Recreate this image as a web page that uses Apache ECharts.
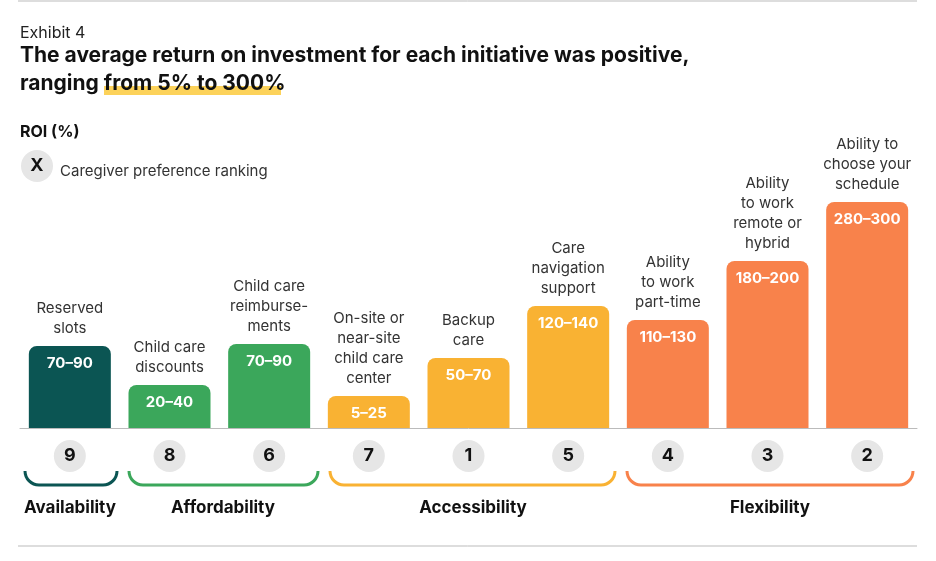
<!DOCTYPE html>
<html><head><meta charset="utf-8">
<script src="https://cdn.jsdelivr.net/npm/echarts@6/dist/echarts.min.js"></script>
<style>html,body{margin:0;padding:0;background:#fff}#c{width:936px;height:561px}</style>
</head><body><div id="c"></div>
<script>
const categories = ['Reserved\nslots','Child care\ndiscounts','Child care\nreimburse-\nments','On-site or\nnear-site\nchild care\ncenter','Backup\ncare','Care\nnavigation\nsupport','Ability\nto work\npart-time','Ability\nto work\nremote or\nhybrid','Ability to\nchoose your\nschedule'];
const roiRanges = ['70–90','20–40','70–90','5–25','50–70','120–140','110–130','180–200','280–300'];
// bar heights as drawn in the reference (visual scale)
const barHeights = [82,43,84,32,70,122,108,167,226];
const rankings = ['9','8','6','7','1','5','4','3','2'];
const groupOf = [0,1,1,2,2,2,3,3,3];
const groupNames = ['Availability','Affordability','Accessibility','Flexibility'];
const groupColors = ['#0b5553','#3ba75b','#f9b233','#f8824b'];

const F = 'Inter, "Noto Sans", sans-serif';
const chart = echarts.init(document.getElementById('c'));
const brackets = [[25,117],[129,318],[330,615],[627,913]];
const groupCenters = [70,223,473,770];
function txt(x,y,text,font,fill,align){return {type:'text',x:x,y:y,style:{text:text,font:font,fill:fill,align:align||'left',verticalAlign:'top',lineHeight:28}};}
const g = [
  {type:'line',shape:{x1:18,y1:1,x2:917,y2:1},style:{stroke:'#bbb',lineWidth:1}},
  {type:'line',shape:{x1:18,y1:546,x2:917,y2:546},style:{stroke:'#bbb',lineWidth:1}},
  txt(20,19,'Exhibit 4','16px '+F,'#222'),
  {type:'rect',shape:{x:104,y:86,width:177,height:9},style:{fill:'#fcd25a'}},
  txt(20,42,'The average return on investment for each initiative was positive,','bold 21px '+F,'#111'),
  txt(20,70,'ranging from 5% to 300%','bold 21px '+F,'#111'),
  txt(20,118,'ROI (%)','bold 16px '+F,'#111'),
  {type:'circle',shape:{cx:37,cy:166,r:16},style:{fill:'#e6e6e6'}},
  {type:'text',x:37,y:166,style:{text:'X',font:'bold 18px '+F,fill:'#111',align:'center',verticalAlign:'middle'}},
  txt(60,157,'Caregiver preference ranking','15px '+F,'#333')
];
brackets.forEach((b,i)=>{
  const st={stroke:groupColors[i],lineWidth:3,fill:null};
  g.push({type:'arc',shape:{cx:b[0]+14,cy:471,r:14,startAngle:Math.PI/2,endAngle:Math.PI,clockwise:true},style:st});
  g.push({type:'arc',shape:{cx:b[1]-14,cy:471,r:14,startAngle:0,endAngle:Math.PI/2,clockwise:true},style:st});
  g.push({type:'line',shape:{x1:b[0]+14,y1:485,x2:b[1]-14,y2:485},style:st});
  g.push({type:'text',x:groupCenters[i],y:508,style:{text:groupNames[i],font:'bold 17px '+F,fill:'#111',align:'center',verticalAlign:'middle'}});
});
chart.setOption({
  animation:false,
  grid:{left:20,right:19,top:188,bottom:133},
  xAxis:{type:'category',data:categories,axisTick:{show:false},
    axisLine:{lineStyle:{color:'#bbb',width:1}},
    axisLabel:{interval:0,margin:12,formatter:(v,i)=>'{c|'+rankings[i]+'}',
      rich:{c:{backgroundColor:'#e6e6e6',borderRadius:16,width:32,height:32,align:'center',lineHeight:32,fontSize:18,fontWeight:'bold',color:'#111',fontFamily:F}}}},
  yAxis:{type:'value',min:0,max:240,show:false},
  series:[
    {type:'bar',barWidth:82,data:barHeights.map((v,i)=>({value:v,itemStyle:{color:groupColors[groupOf[i]],borderRadius:[8,8,0,0]}})),
     label:{show:true,position:'insideTop',distance:10,formatter:p=>roiRanges[p.dataIndex],color:'#fff',fontWeight:'bold',fontSize:15,fontFamily:F}},
    {type:'bar',barWidth:82,barGap:'-100%',data:barHeights,itemStyle:{color:'transparent'},silent:true,
     label:{show:true,position:'top',distance:8,formatter:p=>categories[p.dataIndex],color:'#333',fontSize:15,lineHeight:20,fontFamily:F,align:'center'}}
  ],
  graphic:g
});
</script></body></html>
